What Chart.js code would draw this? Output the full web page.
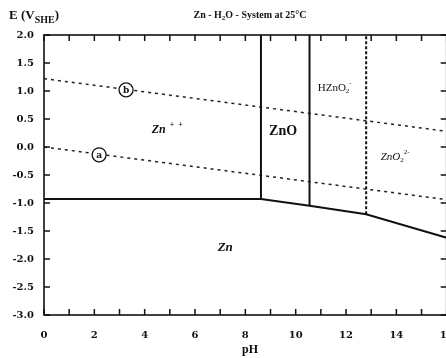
<!DOCTYPE html>
<html><head><meta charset="utf-8">
<script src="https://cdn.jsdelivr.net/npm/chart.js@4/dist/chart.umd.min.js"></script>
<style>html,body{margin:0;padding:0;background:#fff;overflow:hidden}</style>
</head><body>
<div style="width:455px;height:358px"><canvas id="c" width="455" height="358"></canvas></div>
<script>
// Zn/Zn2+, Zn/ZnO, Zn/HZnO2-, Zn/ZnO2 2- boundary (solid, bottom)
const boundaryPH = [0, 8.62, 10.55, 12.8, 16];
const boundaryE  = [-0.93, -0.93, -1.05, -1.2, -1.62];
// vertical boundaries
const znoPH   = [8.62, 8.62];   const znoE   = [-0.93, 2.0];
const hznoPH  = [10.55, 10.55]; const hznoE  = [-1.05, 2.0];
const zno2PH  = [12.8, 12.8];   const zno2E  = [-1.2, 2.0];
// water stability lines
const waterAPH = [0, 16]; const waterAE = [0.0, -0.94];
const waterBPH = [0, 16]; const waterBE = [1.22, 0.28];
// circled line labels
const circleNames = ['b', 'a'];
const circlePH = [3.26, 2.19];
const circleE  = [1.02, -0.14];
// region labels
const regionNames = ['Zn++', 'ZnO', 'HZnO2-', 'ZnO2 2-', 'Zn'];
const regionPH = [4.9, 9.5, 11.55, 13.95, 7.2];
const regionE  = [0.30, 0.27, 1.05, -0.18, -1.79];
// axis ticks
const xTickValues = [0, 2, 4, 6, 8, 10, 12, 14, 16];
const yTickValues = [2.0, 1.5, 1.0, 0.5, 0.0, -0.5, -1.0, -1.5, -2.0, -2.5, -3.0];

const pts = (xs, ys) => xs.map((x, i) => ({x, y: ys[i]}));
const SERIF = '"DejaVu Serif", "Liberation Serif", serif';
const TIMES = '"Liberation Serif", serif';

const lineDs = (data, opts) => Object.assign({
  data, showLine: true, pointRadius: 0, borderColor: '#111', borderWidth: 2, fill: false, tension: 0
}, opts);

const framePlugin = {
  id: 'frame',
  afterDatasetsDraw(chart) {
    const {ctx, chartArea: a, scales: {x, y}} = chart;
    ctx.save();
    ctx.strokeStyle = '#111';
    ctx.lineWidth = 1.6;
    ctx.strokeRect(a.left, a.top, a.right - a.left, a.bottom - a.top);
    ctx.lineWidth = 1.5;
    ctx.beginPath();
    x.ticks.forEach(t => {
      const px = x.getPixelForValue(t.value);
      ctx.moveTo(px, a.bottom); ctx.lineTo(px, a.bottom - 6);
      ctx.moveTo(px, a.top); ctx.lineTo(px, a.top + 6);
    });
    y.ticks.forEach(t => {
      const py = y.getPixelForValue(t.value);
      ctx.moveTo(a.left, py); ctx.lineTo(a.left + 6, py);
      ctx.moveTo(a.right, py); ctx.lineTo(a.right - 6, py);
    });
    ctx.stroke();

    // circle letters
    ctx.fillStyle = '#111';
    ctx.textAlign = 'center'; ctx.textBaseline = 'middle';
    ctx.font = 'bold 9px ' + SERIF;
    circleNames.forEach((n, i) => {
      ctx.fillText(n, x.getPixelForValue(circlePH[i]), y.getPixelForValue(circleE[i]) + 0.5);
    });

    // region labels
    const put = (i, parts) => {
      const cx = x.getPixelForValue(regionPH[i]), cy = y.getPixelForValue(regionE[i]);
      let w = 0;
      parts.forEach(p => { ctx.font = p.f; w += ctx.measureText(p.t).width; });
      let px = cx - w / 2;
      ctx.textAlign = 'left';
      parts.forEach(p => { ctx.font = p.f; ctx.fillText(p.t, px, cy + (p.dy || 0)); px += ctx.measureText(p.t).width; });
    };
    const sup = 'bold 8px ' + TIMES;
    put(0, [{t: 'Zn', f: 'italic bold 12px ' + TIMES}, {t: '  +  +', f: sup, dy: -5}]);
    put(1, [{t: 'ZnO', f: 'bold 14px ' + TIMES}]);
    put(2, [{t: 'HZnO', f: '11px ' + TIMES}, {t: '2', f: '7px ' + TIMES, dy: 3}, {t: '-', f: '7px ' + TIMES, dy: -5}]);
    put(3, [{t: 'ZnO', f: 'italic 11px ' + TIMES}, {t: '2', f: '7px ' + TIMES, dy: 3}, {t: '2-', f: '7px ' + TIMES, dy: -5}]);
    put(4, [{t: 'Zn', f: 'italic bold 13px ' + TIMES}]);

    // titles
    ctx.textBaseline = 'middle';
    const row = (parts, sx, sy) => {
      let px = sx;
      parts.forEach(p => { ctx.font = p.f; ctx.fillText(p.t, px, sy + (p.dy || 0)); px += ctx.measureText(p.t).width; });
    };
    const tf = 'bold 10px ' + TIMES, ts = 'bold 7px ' + TIMES;
    const tparts = [{t: 'Zn - H', f: tf}, {t: '2', f: ts, dy: 3}, {t: 'O - System at 25°C', f: tf}];
    let tw = 0; tparts.forEach(p => { ctx.font = p.f; tw += ctx.measureText(p.t).width; });
    ctx.textAlign = 'left';
    row(tparts, 250 - tw / 2, 15);
    row([{t: 'E (V', f: 'bold 13px ' + TIMES}, {t: 'SHE', f: 'bold 10px ' + TIMES, dy: 4}, {t: ')', f: 'bold 13px ' + TIMES}], 9, 16);
    ctx.textAlign = 'center';
    ctx.font = 'bold 12px ' + TIMES;
    ctx.fillText('pH', 250, 350);
    ctx.restore();
  }
};

new Chart(document.getElementById('c'), {
  type: 'scatter',
  data: {
    datasets: [
      {data: pts(circlePH, circleE), pointRadius: 7, pointHoverRadius: 7, pointBackgroundColor: '#fff', pointBorderColor: '#111', pointBorderWidth: 1.3, showLine: false},
      lineDs(pts(boundaryPH, boundaryE), {}),
      lineDs(pts(znoPH, znoE), {}),
      lineDs(pts(hznoPH, hznoE), {}),
      lineDs(pts(zno2PH, zno2E), {borderDash: [3, 2], borderWidth: 2}),
      lineDs(pts(waterAPH, waterAE), {borderDash: [3, 4], borderWidth: 1.5, borderColor: '#222'}),
      lineDs(pts(waterBPH, waterBE), {borderDash: [3, 4], borderWidth: 1.5, borderColor: '#222'})
    ]
  },
  options: {
    responsive: false,
    animation: false,
    events: [],
    layout: {padding: {left: 0, right: 1, top: 35, bottom: 0}},
    plugins: {legend: {display: false}, tooltip: {enabled: false}, title: {display: false}},
    scales: {
      x: {
        type: 'linear', min: 0, max: 16,
        afterFit: s => { s.height = 43; s.paddingLeft = 0; s.paddingRight = 0; },
        afterBuildTicks: s => { s.ticks = Array.from({length: 17}, (_, i) => ({value: i})); },
        grid: {display: false, drawTicks: false},
        border: {display: false},
        ticks: {
          autoSkip: false, maxRotation: 0, padding: 14, color: '#111',
          font: {family: SERIF, weight: 'bold', size: 10},
          callback: v => (xTickValues.includes(v) ? String(v) : '')
        }
      },
      y: {
        type: 'linear', min: -3, max: 2,
        afterFit: s => { s.width = 44; s.paddingTop = 0; s.paddingBottom = 0; },
        afterBuildTicks: s => { s.ticks = yTickValues.map(v => ({value: v})); },
        grid: {display: false, drawTicks: false},
        border: {display: false},
        ticks: {
          padding: 10, color: '#111',
          font: {family: SERIF, weight: 'bold', size: 10},
          callback: v => Number(v).toFixed(1)
        }
      }
    }
  },
  plugins: [framePlugin]
});
</script>
</body></html>
